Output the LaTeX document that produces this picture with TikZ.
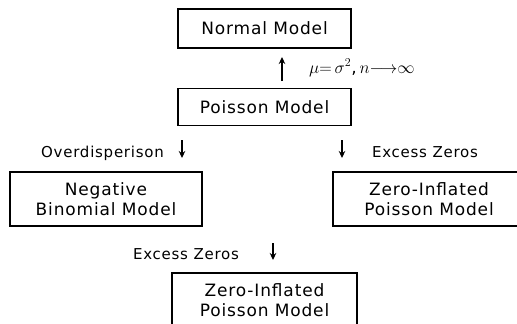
\documentclass[tikz,border=0pt]{standalone}
\usepackage{amsmath}
\usepackage{fontspec}
\setmainfont{DejaVu Sans}[LetterSpace=5]
\usetikzlibrary{arrows.meta}
\usetikzlibrary{positioning}

\begin{document}
\begin{tikzpicture}[x=1pt, y=-1pt,
    modelbox/.style={rectangle, draw=black, line width=1.2pt, inner sep=0pt, align=center,
        font=\fontsize{17}{20}\selectfont},
    updown/.style={-{Stealth[length=7pt, width=6.5pt]}, line width=1.8pt},
    note/.style={font=\fontsize{15}{15}\selectfont, inner sep=0pt, anchor=base}]
    \useasboundingbox (0,0) rectangle (517,324);

    \node[modelbox, minimum width=173pt, minimum height=39pt] (normal) at (264.5,28.5) {Normal Model};
    \node[modelbox, minimum width=173pt, minimum height=37pt] (poisson) [below=39pt of normal] {Poisson Model};
    \node[modelbox, minimum width=192pt, minimum height=54pt] (negbin) at (106,199) {Negative\\Binomial Model};
    \node[modelbox, minimum width=192pt, minimum height=54pt] (zipright) at (429,199) {Zero-Inflated\\Poisson Model};
    \node[modelbox, minimum width=185pt, minimum height=54pt] (zipbottom) at (264.5,300) {Zero-Inflated\\Poisson Model};

    % short arrows between the boxes
    \coordinate (uptail) at (282,81);
    \coordinate (uphead) at (282,57);
    \coordinate (lefttail) at (182,140);
    \coordinate (lefthead) at (182,158);
    \coordinate (righttail) at (342,140);
    \coordinate (righthead) at (342,158);
    \coordinate (lowtail) at (273,243);
    \coordinate (lowhead) at (273,260);

    \draw[updown] (uptail) -- (uphead);
    \draw[updown] (lefttail) -- (lefthead);
    \draw[updown] (righttail) -- (righthead);
    \draw[updown] (lowtail) -- (lowhead);

    \node[inner sep=0pt, anchor=base west, font=\fontsize{17}{17}\selectfont] (limit) at (309,73)
        {$\mu{=}\,\sigma^2$,\,$n{\longrightarrow}\infty$};
    \node[note] (overdisp) at (102.5,157) {Overdisperison};
    \node[note] (zeroright) at (425,157) {Excess Zeros};
    \node[note] (zerolow) at (186,259) {Excess Zeros};
\end{tikzpicture}
\end{document}
